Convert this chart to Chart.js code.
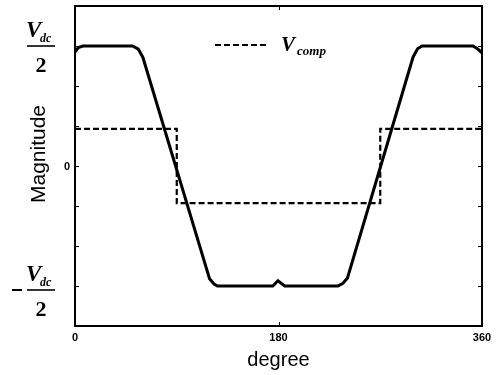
<!DOCTYPE html>
<html>
<head>
<meta charset="utf-8">
<script src="https://cdn.jsdelivr.net/npm/chart.js@4/dist/chart.umd.min.js"></script>
<style>
  html, body { margin: 0; padding: 0; background: #fff; }
  #wrap { width: 500px; height: 375px; }
</style>
</head>
<body>
<div id="wrap"><canvas id="c" width="500" height="375"></canvas></div>
<script>
// Phase voltage waveform (trapezoid) in units where Vdc/2 = 3
const solidDeg = [0, 3, 7, 51, 56, 60, 119, 123, 126, 175, 179.5, 185.5, 232.5, 237, 241, 299, 303, 307, 352, 356, 360];
const solidVal = [2.85, 2.96, 3, 3, 2.92, 2.72, -2.82, -2.95, -3, -3, -2.87, -3, -3, -2.93, -2.8, 2.72, 2.93, 3, 3, 2.93, 2.83];

// Compensation voltage (square wave)
const compDeg = [0, 90, 90, 270, 270, 360];
const compVal = [0.93, 0.93, -0.93, -0.93, 0.93, 0.93];

// Axis ticks
const xTicks = [0, 180, 360];
const yTickMarks = [-3, -2, -1, 0, 1, 2, 3];
const halfVdc = 3;

const toXY = (xs, ys) => xs.map((x, i) => ({ x: x, y: ys[i] }));

const SERIF = '"Liberation Serif", "DejaVu Serif", serif';
const SANS = '"Liberation Sans", Arial, sans-serif';

const decorations = {
  id: 'decorations',
  afterDraw(chart) {
    const ctx = chart.ctx;
    const a = chart.chartArea;
    const xs = chart.scales.x, ys = chart.scales.y;
    ctx.save();
    ctx.strokeStyle = '#000';
    ctx.fillStyle = '#000';

    // frame
    ctx.lineWidth = 2;
    ctx.strokeRect(a.left, a.top, a.right - a.left, a.bottom - a.top);

    // inward tick marks
    ctx.lineWidth = 1;
    yTickMarks.forEach(v => {
      const py = Math.round(ys.getPixelForValue(v)) + 0.5;
      ctx.beginPath();
      ctx.moveTo(a.left, py); ctx.lineTo(a.left + 4, py);
      ctx.moveTo(a.right, py); ctx.lineTo(a.right - 4, py);
      ctx.stroke();
    });
    const px180 = Math.round(xs.getPixelForValue(180)) + 0.5;
    ctx.beginPath();
    ctx.moveTo(px180, a.bottom); ctx.lineTo(px180, a.bottom - 4);
    ctx.moveTo(px180, a.top); ctx.lineTo(px180, a.top + 4);
    ctx.stroke();

    // y labels: Vdc/2, 0, -Vdc/2
    const frac = (lineY, neg) => {
      const x0 = 27;
      ctx.textAlign = 'left';
      ctx.textBaseline = 'alphabetic';
      ctx.font = 'italic bold 23px ' + SERIF;
      ctx.fillText('V', x0 - 1, lineY - 9);
      ctx.font = 'italic bold 12px ' + SERIF;
      ctx.fillText('dc', x0 + 13, lineY - 4);
      ctx.lineWidth = 1.6;
      ctx.beginPath();
      ctx.moveTo(x0, lineY); ctx.lineTo(x0 + 28, lineY);
      ctx.stroke();
      ctx.font = 'bold 22px ' + SERIF;
      ctx.textAlign = 'center';
      ctx.fillText('2', x0 + 14, lineY + 26);
      if (neg) {
        ctx.lineWidth = 2;
        ctx.beginPath();
        ctx.moveTo(12, lineY); ctx.lineTo(22, lineY);
        ctx.stroke();
      }
    };
    frac(ys.getPixelForValue(halfVdc), false);
    frac(ys.getPixelForValue(-halfVdc) + 4, true);

    ctx.font = 'bold 11px ' + SANS;
    ctx.textAlign = 'center';
    ctx.textBaseline = 'middle';
    ctx.fillText('0', 67, ys.getPixelForValue(0) + 1);

    // axis titles
    ctx.font = '21px ' + SANS;
    ctx.textBaseline = 'middle';
    ctx.save();
    ctx.translate(39, 154);
    ctx.rotate(-Math.PI / 2);
    ctx.fillText('Magnitude', 0, 0);
    ctx.restore();
    ctx.font = '20px ' + SANS;
    ctx.textBaseline = 'alphabetic';
    ctx.fillText('degree', (a.left + a.right) / 2, 366);

    // legend
    ctx.lineWidth = 2.2;
    ctx.setLineDash([6, 3]);
    ctx.beginPath();
    ctx.moveTo(215, 45); ctx.lineTo(268, 45);
    ctx.stroke();
    ctx.setLineDash([]);
    ctx.textAlign = 'left';
    ctx.font = 'italic bold 21px ' + SERIF;
    ctx.fillText('V', 281, 51);
    ctx.font = 'italic bold 13px ' + SERIF;
    ctx.fillText('comp', 297, 55);

    ctx.restore();
  }
};

new Chart(document.getElementById('c'), {
  type: 'line',
  data: {
    datasets: [
      {
        label: 'V',
        data: toXY(solidDeg, solidVal),
        borderColor: '#000',
        borderWidth: 3,
        pointRadius: 0,
        tension: 0,
        fill: false
      },
      {
        label: 'Vcomp',
        data: toXY(compDeg, compVal),
        borderColor: '#000',
        borderWidth: 2.2,
        borderDash: [6, 3],
        pointRadius: 0,
        tension: 0,
        fill: false
      }
    ]
  },
  options: {
    responsive: false,
    animation: false,
    events: [],
    layout: { padding: { top: 6, right: 18, left: 0, bottom: 0 } },
    plugins: { legend: { display: false }, tooltip: { enabled: false } },
    scales: {
      x: {
        type: 'linear',
        min: 0, max: 360,
        afterBuildTicks: s => { s.ticks = xTicks.map(v => ({ value: v })); },
        afterFit: s => { s.height = 49; },
        grid: { display: false, drawTicks: false },
        border: { display: false },
        ticks: {
          autoSkip: false,
          maxRotation: 0,
          padding: 5,
          color: '#000',
          font: { family: SANS, size: 11, weight: 'bold' }
        }
      },
      y: {
        min: -4, max: 4,
        afterFit: s => { s.width = 75; },
        grid: { display: false, drawTicks: false },
        border: { display: false },
        ticks: { display: false }
      }
    }
  },
  plugins: [decorations]
});
</script>
</body>
</html>
